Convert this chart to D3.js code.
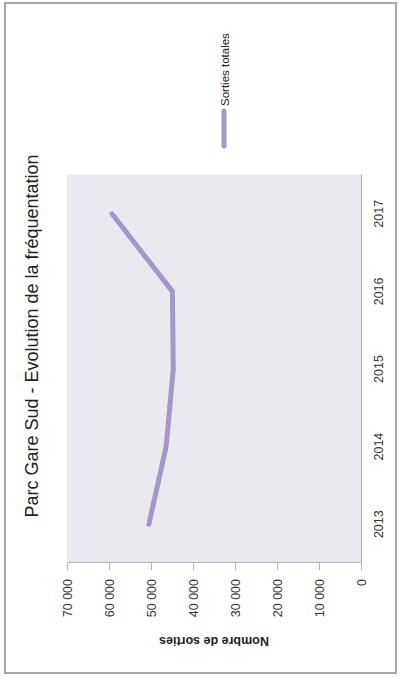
<!DOCTYPE html>
<head>
  <meta charset="utf-8">
  <script src="https://cdn.jsdelivr.net/npm/d3@7"></script>
  <style>
    body { margin:0; background:#fff; }
    svg text { font-family: "Liberation Sans", Arial, sans-serif; fill:#222; }
    .axis path, .axis line { stroke:#b3b3b3; }
    .axis text { font-size:12.5px; fill:#333; }
  </style>
</head>

<body>
  <script>
    // data
    var years = ["2013", "2014", "2015", "2016", "2017"];
    var sorties = [50500, 46400, 44700, 44900, 59300];
    var valueTicks = [0, 10000, 20000, 30000, 40000, 50000, 60000, 70000];
    var title = "Parc Gare Sud - Evolution de la fréquentation";
    var seriesName = "Sorties totales";
    var axisTitle = "Nombre de sorties";

    var W = 400, H = 677;

    var svg = d3.select("body").append("svg")
        .attr("width", W)
        .attr("height", H);

    // outer frame
    svg.append("rect")
        .attr("x", 5).attr("y", 3)
        .attr("width", 391).attr("height", 670)
        .attr("fill", "none")
        .attr("stroke", "#a6a6a6")
        .attr("stroke-width", 2);

    // the chart is drawn landscape, then turned a quarter left
    var g = svg.append("g")
        .attr("transform", "translate(0," + H + ") rotate(-90)");

    var plot = {left: 114, right: 502, top: 67, bottom: 361};

    var x = d3.scaleBand().domain(years).range([plot.left, plot.right]);
    var y = d3.scaleLinear().domain([0, 70000]).range([plot.bottom, plot.top]);

    var fr = d3.formatLocale({decimal: ",", thousands: "\u00a0", grouping: [3], currency: ["", " €"]});

    g.append("rect")
        .attr("x", plot.left).attr("y", plot.top)
        .attr("width", plot.right - plot.left)
        .attr("height", plot.bottom - plot.top)
        .attr("fill", "#ebe9f0");

    // value axis
    g.append("g")
        .attr("class", "axis")
        .attr("transform", "translate(" + plot.left + ",0)")
        .call(d3.axisLeft(y).tickValues(valueTicks).tickFormat(fr.format(",")).tickSize(7).tickSizeOuter(0).tickPadding(9));

    // category axis
    g.append("g")
        .attr("class", "axis")
        .attr("transform", "translate(0," + plot.bottom + ")")
        .call(d3.axisBottom(x).tickSize(0).tickPadding(13));

    var data = years.map(function(d, i) { return {year: d, value: sorties[i]}; });

    var line = d3.line()
        .x(function(d) { return x(d.year) + x.bandwidth() / 2; })
        .y(function(d) { return y(d.value); });

    g.append("path")
        .datum(data)
        .attr("d", line)
        .attr("fill", "none")
        .attr("stroke", "#a598c8")
        .attr("stroke-width", 5)
        .attr("stroke-linecap", "round")
        .attr("stroke-linejoin", "round");

    // title
    g.append("text")
        .attr("x", 341).attr("y", 32)
        .attr("text-anchor", "middle")
        .attr("dominant-baseline", "central")
        .style("font-size", "18px")
        .text(title);

    // axis title
    g.append("text")
        .attr("transform", "translate(36," + ((plot.top + plot.bottom) / 2) + ") rotate(-90)")
        .attr("text-anchor", "middle")
        .attr("dominant-baseline", "central")
        .style("font-size", "12.5px")
        .style("font-weight", "bold")
        .text(axisTitle);

    // legend
    g.append("line")
        .attr("x1", 531).attr("x2", 566)
        .attr("y1", 224).attr("y2", 224)
        .attr("stroke", "#a598c8")
        .attr("stroke-width", 5)
        .attr("stroke-linecap", "round");

    g.append("text")
        .attr("x", 571).attr("y", 225)
        .attr("dominant-baseline", "central")
        .style("font-size", "11.5px")
        .text(seriesName);
  </script>
</body>
